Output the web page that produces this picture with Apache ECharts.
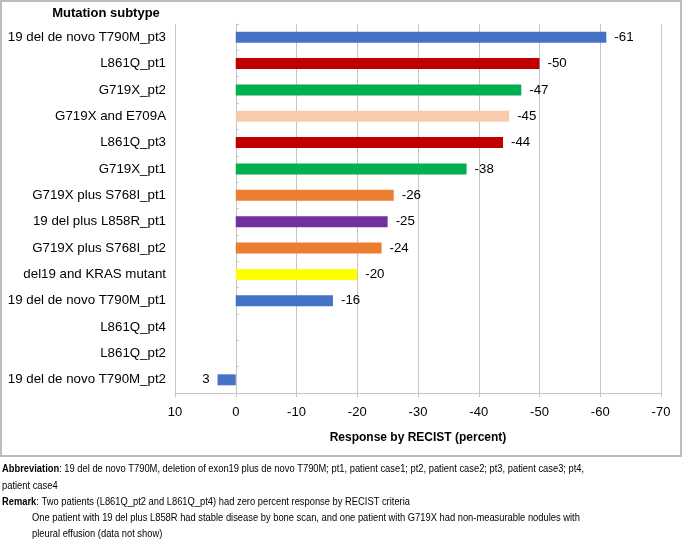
<!DOCTYPE html>
<html><head><meta charset="utf-8">
<script src="https://cdn.jsdelivr.net/npm/echarts@6/dist/echarts.min.js"></script>
<style>html,body{margin:0;padding:0;background:#fff}#c{width:685px;height:545px}</style>
</head><body><div id="c"></div>
<script>
const categories = [
  '19 del de novo T790M_pt3', 'L861Q_pt1', 'G719X_pt2', 'G719X and E709A', 'L861Q_pt3',
  'G719X_pt1', 'G719X plus S768I_pt1', '19 del plus L858R_pt1', 'G719X plus S768I_pt2',
  'del19 and KRAS mutant', '19 del de novo T790M_pt1', 'L861Q_pt4', 'L861Q_pt2', '19 del de novo T790M_pt2'
];
const values = [-61, -50, -47, -45, -44, -38, -26, -25, -24, -20, -16, 0, 0, 3];
const barColors = [
  '#4472C4', '#C00000', '#00B050', '#F8CBAD', '#C00000',
  '#00B050', '#ED7D31', '#7030A0', '#ED7D31',
  '#FFFF00', '#4472C4', '#4472C4', '#4472C4', '#4472C4'
];
const xMin = -70, xMax = 10, xStep = 10;
const yTitle = 'Mutation subtype';
const xTitle = 'Response by RECIST (percent)';
const notes = [
  ['Abbreviation', ': 19 del de novo T790M, deletion of exon19 plus de novo T790M; pt1, patient case1; pt2, patient case2; pt3, patient case3; pt4,'],
  ['', 'patient case4'],
  ['Remark', ': Two patients (L861Q_pt2 and L861Q_pt4) had zero percent response by RECIST criteria'],
  ['', 'One patient with 19 del plus L858R had stable disease by bone scan, and one patient with G719X had non-measurable nodules with'],
  ['', 'pleural effusion (data not show)']
];

const FONT = 'Liberation Sans';
const grey = '#c4c4c4';
const gridLeft = 175, gridRight = 24, chartW = 685;
const plotW = chartW - gridLeft - gridRight;
const zeroOffset = -plotW * (xMax - 0) / (xMax - xMin);

const chart = echarts.init(document.getElementById('c'), null, {renderer: 'canvas'});

const barData = values.map((v, i) => ({
  value: v,
  itemStyle: {color: barColors[i]},
  label: {show: v !== 0, position: v > 0 ? 'left' : 'right'}
}));

const noteY = [469, 486, 502, 518, 534];
const noteX = [2, 2, 2, 32, 32];
const graphics = [
  {type: 'rect', shape: {x: 1, y: 1, width: 680, height: 455}, style: {fill: 'none', stroke: '#bdbdbd', lineWidth: 2}, silent: true},
  {type: 'text', x: 106, y: 13, style: {text: yTitle, font: 'bold 13px ' + FONT, fill: '#000', align: 'center', verticalAlign: 'middle'}}
];
notes.forEach((n, i) => {
  graphics.push({
    type: 'text', x: noteX[i], y: noteY[i], scaleX: 0.85,
    style: {
      text: (n[0] ? '{b|' + n[0] + '}' : '') + '{n|' + n[1] + '}',
      verticalAlign: 'middle',
      rich: {
        b: {font: 'bold 11px ' + FONT, fill: '#000'},
        n: {font: '11px ' + FONT, fill: '#000'}
      }
    }
  });
});

chart.setOption({
  animation: false,
  backgroundColor: '#fff',
  grid: {left: gridLeft, right: gridRight, top: 24, bottom: 152, containLabel: false},
  xAxis: {
    type: 'value', inverse: true, min: xMin, max: xMax, interval: xStep,
    name: xTitle, nameLocation: 'middle', nameGap: 39,
    nameTextStyle: {fontFamily: FONT, fontSize: 12, fontWeight: 'bold', color: '#000'},
    axisLine: {show: true, lineStyle: {color: grey, width: 1}},
    axisTick: {show: true, length: 4, lineStyle: {color: grey}},
    axisLabel: {fontFamily: FONT, fontSize: 13, color: '#000', margin: 13},
    splitLine: {show: true, lineStyle: {color: grey, width: 1}}
  },
  yAxis: [{
    type: 'category', inverse: true, data: categories,
    axisLine: {show: false}, axisTick: {show: false},
    axisLabel: {fontFamily: FONT, fontSize: 13.3, color: '#000', margin: 9}
  }, {
    type: 'category', inverse: true, data: categories, position: 'left', offset: zeroOffset,
    axisLine: {show: true, onZero: false, lineStyle: {color: grey}},
    axisTick: {show: true, inside: true, length: 3, lineStyle: {color: grey}},
    axisLabel: {show: false}
  }],
  series: [{
    type: 'bar', yAxisIndex: 0, data: barData, barWidth: 11,
    label: {fontFamily: FONT, fontSize: 13.3, color: '#000', distance: 8, formatter: p => String(p.value)}
  }],
  graphic: graphics
});
</script></body></html>
